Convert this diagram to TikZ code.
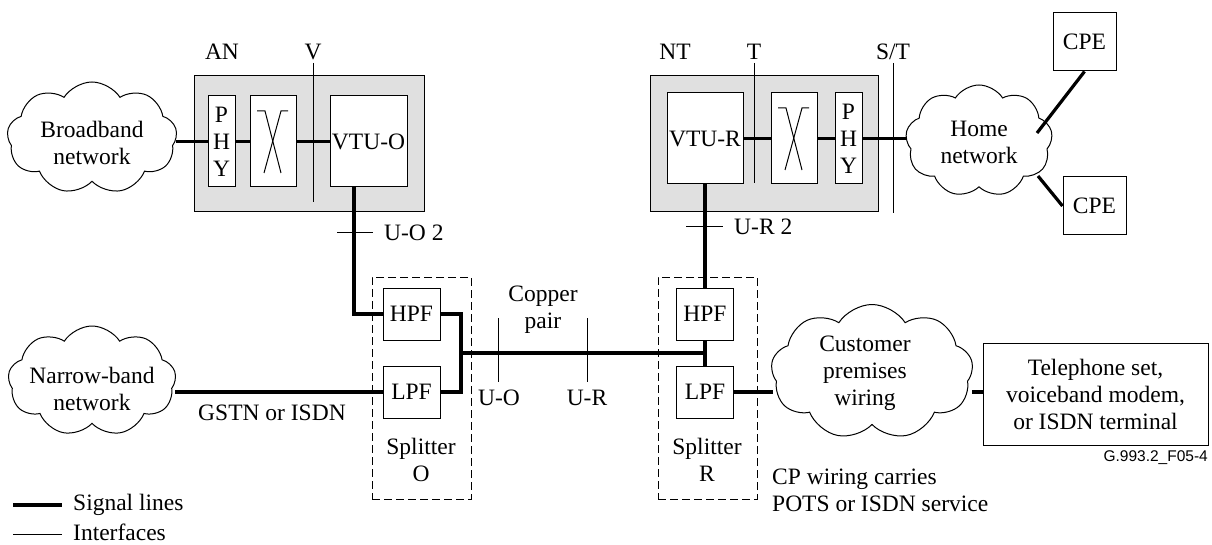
\documentclass[tikz,border=0pt]{standalone}
\usepackage{fontspec}
\setmainfont{Liberation Serif}
\newfontfamily\figsans{Liberation Sans}
\usetikzlibrary{shapes.symbols,calc}
\definecolor{grayfill}{RGB}{224,224,224}
\begin{document}
\begin{tikzpicture}[x=1pt,y=-1pt,
  every node/.style={font=\fontsize{23.5}{27}\selectfont, inner sep=0pt},
  boxn/.style={draw, line width=1pt, fill=white, align=center},
  grp/.style={draw, line width=1pt, fill=grayfill},
  splt/.style={draw, line width=1pt, dash pattern=on 8pt off 4pt},
  cld/.style={cloud, draw, line width=1pt, fill=white, cloud puffs=9, cloud puff arc=115, aspect=1.6},
  sig/.style={line width=3.2pt},
  iface/.style={line width=1pt},
  lbl/.style={align=center}
]
\useasboundingbox (0,0) rectangle (1212,545);

% access node group
\node[grp, minimum width=230, minimum height=136] (AN) at (309,144) {};
\node[boxn, minimum width=27, minimum height=91] (PHYO) at (221.5,141.5) {P\\[0pt]H\\[0pt]Y};
\node[boxn, minimum width=46, minimum height=91] (XO) at (273,141.5) {};
\node[boxn, minimum width=77, minimum height=91] (VTUO) at (368.5,141.5) {VTU-O};
\draw[line width=1pt] ($(XO.center)+(-16,-30.5)$) -- ++(8,0) -- ++(16,62);
\draw[line width=1pt] ($(XO.center)+(15,-30.5)$) -- ++(-7,0) -- ++(-17,62);
\node (ANl) at (222,52) {AN};
\node (Vl) at (313,52) {V};
\coordinate (Vt) at (313,63);
\coordinate (Vb) at (313,202);
\draw[iface] (Vt) -- (Vb);

% network termination group
\node[grp, minimum width=228, minimum height=136] (NT) at (764,144) {};
\node[boxn, minimum width=76, minimum height=91] (VTUR) at (705,138.5) {VTU-R};
\node[boxn, minimum width=46, minimum height=91] (XR) at (794,138.5) {};
\node[boxn, minimum width=27, minimum height=91] (PHYR) at (848.5,138.5) {P\\[0pt]H\\[0pt]Y};
\draw[line width=1pt] ($(XR.center)+(-16,-30.5)$) -- ++(8,0) -- ++(16,62);
\draw[line width=1pt] ($(XR.center)+(15,-30.5)$) -- ++(-7,0) -- ++(-17,62);
\node (NTl) at (675,52) {NT};
\node (Tl) at (754,52) {T};
\node (STl) at (893,52) {S/T};
\coordinate (Tt) at (754,63);
\coordinate (Tb) at (754,183);
\coordinate (STt) at (893,63);
\coordinate (STb) at (893,213);

% clouds
\node[cld, minimum width=170, minimum height=112] (BB) at (92,138) {};
\node[lbl] (BBt) at (92,143) {Broadband\\network};
\node[cld, minimum width=168, minimum height=110] (NB) at (92,381) {};
\node[lbl] (NBt) at (92,389) {Narrow-band\\network};
\node[cld, minimum width=147, minimum height=112] (HN) at (979,141) {};
\node[lbl] (HNt) at (979,142) {Home\\network};
\node[cld, minimum width=202, minimum height=135, aspect=1.5] (CW) at (872,372) {};
\node[lbl] (CWt) at (865,373) {Customer\\premises\\wiring};

% CPE and terminal
\node[boxn, minimum width=63, minimum height=58] (CPE1) at (1084.5,42) {CPE};
\node[boxn, minimum width=63, minimum height=58] (CPE2) at (1094.5,206) {CPE};
\node[boxn, minimum width=225, minimum height=102] (TEL) at (1095.5,394) {Telephone set,\\voiceband modem,\\or ISDN terminal};

% splitters
\node[splt, minimum width=99, minimum height=222] (SO) at (421.5,388) {};
\node[boxn, minimum width=57, minimum height=52] (HPFO) at (411.5,314) {HPF};
\node[boxn, minimum width=57, minimum height=52] (LPFO) at (411.5,392) {LPF};
\node[lbl] (SOt) at (421,460) {Splitter\\O};
\node[splt, minimum width=99, minimum height=222] (SR) at (707.5,388) {};
\node[boxn, minimum width=57, minimum height=52] (HPFR) at (705,314) {HPF};
\node[boxn, minimum width=57, minimum height=52] (LPFR) at (705,392) {LPF};
\node[lbl] (SRt) at (707,460) {Splitter\\R};

% signal lines
\coordinate (BBe) at (176,141.5);
\draw[sig] (BBe) -- (PHYO.west);
\draw[sig] (PHYO.east) -- (XO.west);
\draw[sig] (XO.east) -- (VTUO.west);
\draw[sig] (VTUR.east) -- (XR.west);
\draw[sig] (XR.east) -- (PHYR.west);
\coordinate (HNw) at (907,138.5);
\draw[sig] (PHYR.east) -- (HNw);
\draw[iface] (Tt) -- (Tb);
\draw[iface] (STt) -- (STb);
\coordinate (bendO) at (354,314);
\draw[sig] (VTUO.south -| bendO) -- (bendO) -- (HPFO.west);
\coordinate (busO) at (461,314);
\coordinate (busO2) at (461,392);
\coordinate (jO) at (461,353);
\coordinate (jR) at (705,353);
\draw[sig] (HPFO.east) -- (busO) -- (busO2) -- (LPFO.east);
\draw[sig] (jO) -- (jR);
\draw[sig] (VTUR.south) -- (HPFR.north);
\draw[sig] (HPFR.south) -- (LPFR.north);
\coordinate (NBe) at (175,392);
\draw[sig] (NBe) -- (LPFO.west);
\coordinate (CWw) at (773,392);
\draw[sig] (LPFR.east) -- (CWw);
\coordinate (CWe) at (972,392);
\draw[sig] (CWe) -- (TEL.west |- CWe);
\coordinate (HNa) at (1037,133);
\coordinate (HNb) at (1038,176);
\draw[sig] (HNa) -- (CPE1.south);
\draw[sig] (HNb) -- (CPE2.west);

% interfaces on lines
\coordinate (UO2a) at (337,233);
\coordinate (UO2b) at (373,233);
\draw[iface] (UO2a) -- (UO2b);
\node[anchor=west] (UO2l) at (384,233) {U-O 2};
\coordinate (UR2a) at (686,227);
\coordinate (UR2b) at (723,227);
\draw[iface] (UR2a) -- (UR2b);
\node[anchor=west] (UR2l) at (734,227) {U-R 2};
\coordinate (UOt) at (498,318);
\coordinate (UOb) at (498,382);
\draw[iface] (UOt) -- (UOb);
\coordinate (URt) at (587,318);
\coordinate (URb) at (587,382);
\draw[iface] (URt) -- (URb);
\node (UOl) at (499,398) {U-O};
\node (URl) at (587,398) {U-R};
\node[lbl] (CPl) at (543,310) {Copper\\pair};
\node (GSl) at (272,413) {GSTN or ISDN};
\node[align=left, anchor=north west] (CPw) at (772,469) {CP wiring carries\\POTS or ISDN service};
\node[anchor=east, font=\figsans\fontsize{15.5}{18}\selectfont] (fig) at (1208,458) {G.993.2\_F05-4};

% legend
\coordinate (L1a) at (13,505);
\coordinate (L1b) at (62,505);
\coordinate (L2a) at (13,534);
\coordinate (L2b) at (62,534);
\draw[sig] (L1a) -- (L1b);
\draw[iface] (L2a) -- (L2b);
\node[anchor=west] (L1) at (73,505) {Signal lines};
\node[anchor=west] (L2) at (73,532) {Interfaces};
\end{tikzpicture}
\end{document}
